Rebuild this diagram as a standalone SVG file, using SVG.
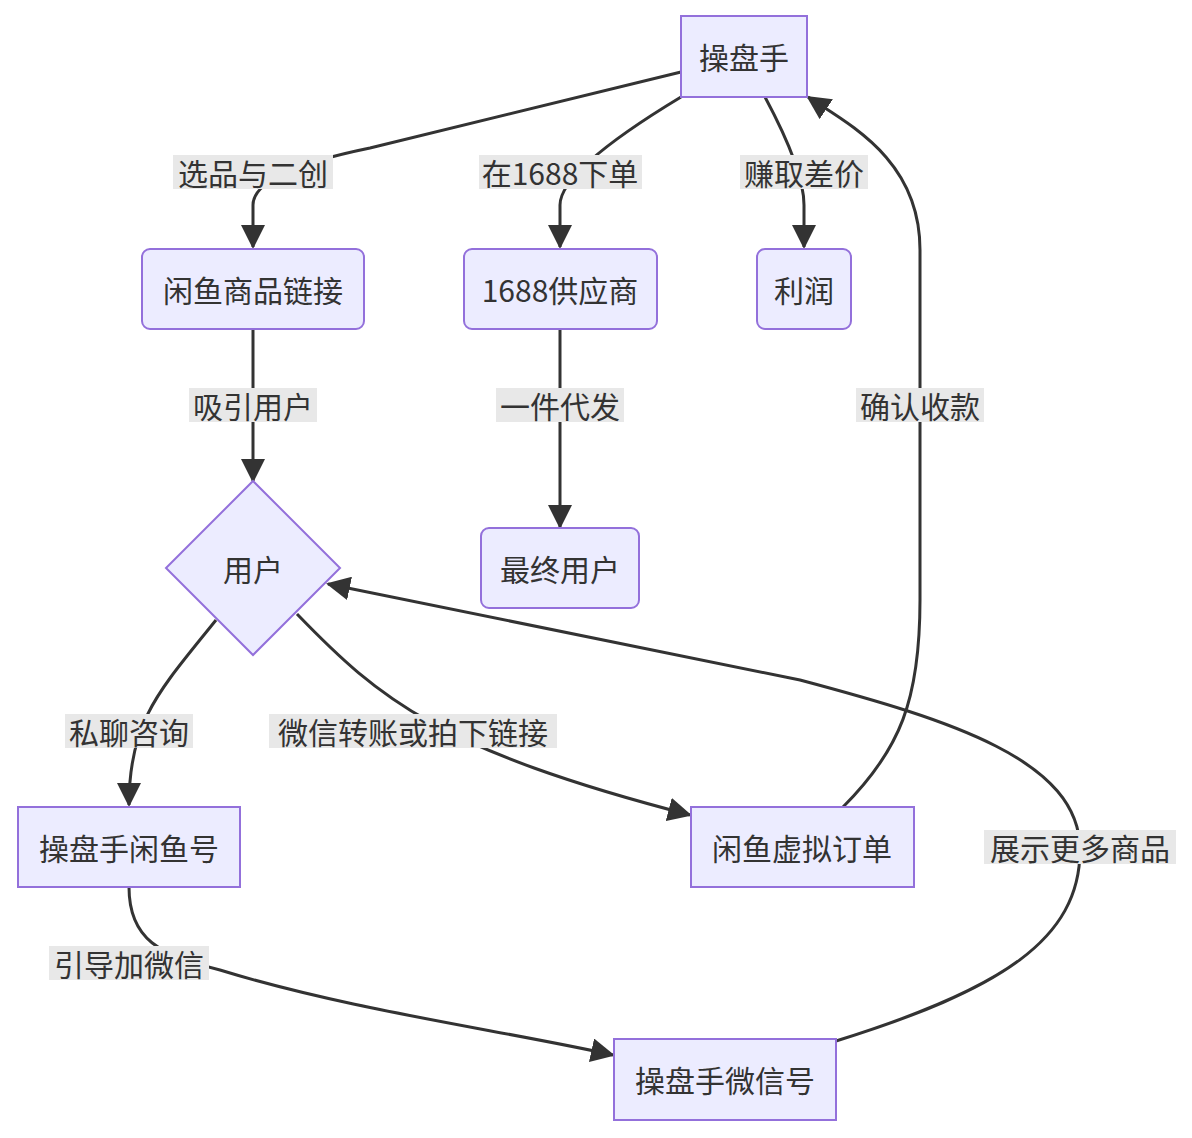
<svg xmlns="http://www.w3.org/2000/svg" width="1192" height="1138" viewBox="0 0 1192 1138">
<style>
.n{fill:#ECECFF;stroke:#9370DB;stroke-width:2}
.t{font-family:"Noto Sans CJK SC","Liberation Sans",sans-serif;font-size:30px;fill:#333;text-anchor:middle;dominant-baseline:central}
.e{fill:none;stroke:#333;stroke-width:3}
.lb{fill:#e8e8e8}
</style>
<defs><marker id="a" viewBox="0 0 10 10" refX="9" refY="5" markerWidth="8" markerHeight="8" markerUnits="userSpaceOnUse" orient="auto" overflow="visible"><path d="M0,0L10,5L0,10z" fill="#333" transform="scale(2.4) translate(-5.8,-2.9)"/></marker>
<marker id="m" viewBox="0 0 24 24" refX="22" refY="12" markerWidth="24" markerHeight="24" markerUnits="userSpaceOnUse" orient="auto"><path d="M0,0L24,12L0,24z" fill="#333"/></marker></defs>
<g id="edges">
<path class="e" marker-end="url(#m)" d="M681,72 L370,148 Q253,172 253,205 L253,247"/>
<path class="e" marker-end="url(#m)" d="M681,97 Q560,170 560,205 L560,247"/>
<path class="e" marker-end="url(#m)" d="M765,97 Q804,170 804,205 L804,247"/>
<path class="e" marker-end="url(#m)" d="M253,329 L253,481"/>
<path class="e" marker-end="url(#m)" d="M560,329 L560,527"/>
<path class="e" marker-end="url(#m)" d="M216,620 C160,690 129,720 129,805"/>
<path class="e" marker-end="url(#m)" d="M297,614 C380,700 440,750 690,815"/>
<path class="e" marker-end="url(#m)" d="M843,807 C900,750 920,700 920,600 L920,250 C920,160 850,125 808,97"/>
<path class="e" marker-end="url(#m)" d="M129,887 C129,940 160,955 220,970 C350,1010 500,1030 613,1055"/>
<path class="e" marker-end="url(#m)" d="M836,1041 C1000,990 1080,940 1080,850 C1080,760 950,720 800,680 L328,584"/>
<g id="labels">
<rect class="lb" x="173" y="155" width="160" height="34"/><text class="t" x="253" y="172">选品与二创</text>
<rect class="lb" x="479" y="155" width="163" height="34"/><text class="t" x="560" y="172">在1688下单</text>
<rect class="lb" x="740" y="155" width="128" height="34"/><text class="t" x="804" y="172">赚取差价</text>
<rect class="lb" x="189" y="388" width="128" height="34"/><text class="t" x="253" y="405">吸引用户</text>
<rect class="lb" x="496" y="388" width="128" height="34"/><text class="t" x="560" y="405">一件代发</text>
<rect class="lb" x="856" y="388" width="128" height="34"/><text class="t" x="920" y="405">确认收款</text>
<rect class="lb" x="65" y="714" width="128" height="34"/><text class="t" x="129" y="731">私聊咨询</text>
<rect class="lb" x="269" y="714" width="288" height="34"/><text class="t" x="413" y="731">微信转账或拍下链接</text>
<rect class="lb" x="49" y="946" width="160" height="34"/><text class="t" x="129" y="963">引导加微信</text>
<rect class="lb" x="984" y="830" width="192" height="34"/><text class="t" x="1080" y="847">展示更多商品</text>
</g>
</g>
<g id="caopanshou"><rect class="n" x="681" y="16" width="126" height="81"/><text class="t" x="744" y="56">操盘手</text></g>
<g id="xianyulink"><rect class="n" x="142" y="249" width="222" height="80" rx="8"/><text class="t" x="253" y="289">闲鱼商品链接</text></g>
<g id="supplier"><rect class="n" x="464" y="249" width="193" height="80" rx="8"/><text class="t" x="560" y="289">1688供应商</text></g>
<g id="profit"><rect class="n" x="757" y="249" width="94" height="80" rx="8"/><text class="t" x="804" y="289">利润</text></g>
<g id="user"><path class="n" d="M253,481 L340,568 L253,655 L166,568z"/><text class="t" x="253" y="568">用户</text></g>
<g id="enduser"><rect class="n" x="481" y="528" width="158" height="80" rx="8"/><text class="t" x="560" y="568">最终用户</text></g>
<g id="xianyuhao"><rect class="n" x="18" y="807" width="222" height="80"/><text class="t" x="129" y="847">操盘手闲鱼号</text></g>
<g id="order"><rect class="n" x="691" y="807" width="223" height="80"/><text class="t" x="802" y="847">闲鱼虚拟订单</text></g>
<g id="wechat"><rect class="n" x="614" y="1039" width="222" height="81"/><text class="t" x="725" y="1079">操盘手微信号</text></g>
</svg>
